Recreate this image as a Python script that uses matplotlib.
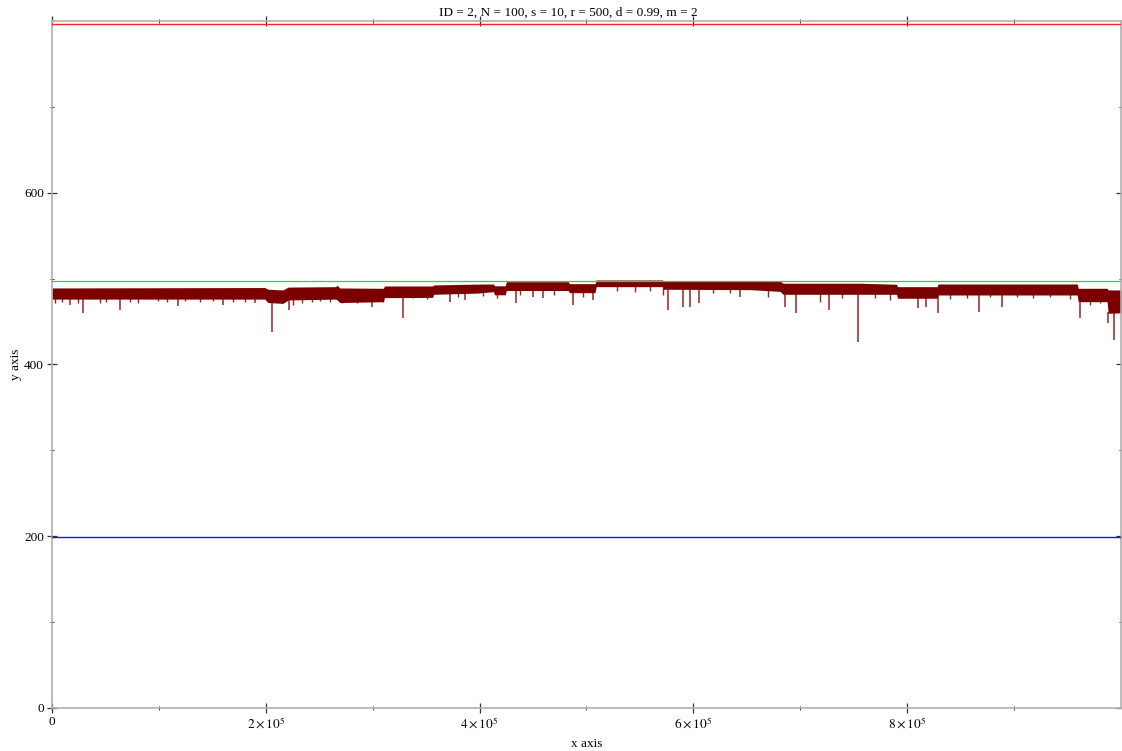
import numpy as np
import matplotlib
matplotlib.use("Agg")
import matplotlib.pyplot as plt

plt.rcParams["font.family"] = ["Liberation Serif", "DejaVu Serif"]
plt.rcParams["mathtext.fontset"] = "stix"

# envelope of the simulated trace: time step, upper and lower edge of the dense band
band_t = [0, 199e3, 202e3, 216e3, 221e3, 265e3, 267e3, 269e3, 310e3, 311e3,
          356e3, 357e3, 398e3, 413e3, 414e3, 424e3, 425e3, 483e3, 484e3, 508e3,
          509e3, 571e3, 572e3, 653e3, 681e3, 684e3, 756e3, 790e3, 791e3, 828e3,
          829e3, 959e3, 960e3, 987e3, 988e3, 1000e3]
band_hi = [489.0, 489.5, 487.5, 486.7, 490.0, 490.5, 492.0, 489.0, 488.6, 491.3,
           491.3, 492.5, 493.5, 493.6, 491.5, 491.5, 496.3, 496.3, 494.0, 494.0,
           498.3, 498.3, 497.1, 497.0, 497.0, 494.5, 494.5, 493.3, 490.5, 490.5,
           493.6, 493.6, 488.6, 488.6, 486.7, 486.7]
band_lo = [476.0, 476.0, 472.0, 471.0, 475.0, 476.0, 475.0, 472.0, 473.0, 477.7,
           478.0, 481.6, 483.0, 484.7, 481.0, 481.0, 486.0, 486.0, 483.5, 483.5,
           490.5, 490.5, 487.5, 487.0, 485.0, 481.6, 481.6, 481.6, 477.0, 477.0,
           480.8, 480.8, 473.0, 473.0, 459.5, 460.0]

# deep downward excursions of the trace
spike_t = [17e3, 29e3, 64e3, 118e3, 160e3, 190e3, 206e3, 222e3, 299e3, 328e3,
           372e3, 386e3, 434e3, 450e3, 459e3, 487e3, 506e3, 576e3, 590e3, 597e3,
           605e3, 644e3, 686e3, 696e3, 727e3, 754e3, 810e3, 818e3, 829e3, 867e3,
           889e3, 962e3, 988e3, 993e3]
spike_lo = [469.3, 460.0, 463.5, 468.0, 469.3, 471.6, 437.9, 463.5, 467.0, 454.2,
            472.8, 475.1, 471.6, 478.6, 477.4, 469.3, 475.1, 463.5, 467.0, 467.0,
            471.6, 478.6, 467.0, 460.0, 463.5, 426.3, 466.0, 467.0, 460.0, 461.0,
            467.0, 454.2, 448.4, 428.6]

# shallow excursions along the lower edge of the band
minor_t = [3e3, 9e3, 24e3, 45e3, 50.5e3, 73e3, 80.5e3, 99e3, 107.5e3, 124e3,
           138e3, 150.6e3, 169.5e3, 180.5e3, 225.6e3, 233.7e3, 243e3, 250.7e3, 260e3, 271e3,
           285e3, 310e3, 338e3, 351e3, 380e3, 403e3, 416e3, 438e3, 470e3, 497e3,
           528.5e3, 545.5e3, 559e3, 571.6e3, 618.4e3, 634e3, 670e3, 718.5e3, 739e3, 770e3,
           784e3, 840e3, 856e3, 877.5e3, 902.7e3, 917.7e3, 933.6e3, 952e3, 971e3, 980e3]
minor_lo = [471.9, 473.0, 471.2, 471.9, 473.0, 473.0, 471.9, 474.2, 473.0, 474.2,
            473.0, 474.2, 473.0, 473.0, 469.2, 471.2, 473.0, 474.2, 473.0, 471.2,
            471.9, 473.0, 477.0, 475.8, 478.1, 479.7, 477.0, 480.8, 480.8, 478.1,
            485.8, 484.7, 485.8, 480.8, 482.8, 483.5, 478.1, 473.0, 477.0, 477.0,
            475.0, 475.8, 477.0, 478.1, 478.1, 477.0, 478.1, 475.8, 469.2, 471.2]

# reference levels
upper_level = 796
mid_level = 497
lower_level = 199

title = "ID = 2, N = 100, s = 10, r = 500, d = 0.99, m = 2"
x_major = [0, 2e5, 4e5, 6e5, 8e5]
x_major_labels = ["0", r"$2\times10^{5}$", r"$4\times10^{5}$", r"$6\times10^{5}$", r"$8\times10^{5}$"]
x_minor = [1e5, 3e5, 5e5, 7e5, 9e5]
y_major = [0, 200, 400, 600]
y_major_labels = ["0", "200", "400", "600"]
y_minor = [100, 300, 500, 700]

W, H = 1122, 751
fig = plt.figure(figsize=(W / 100, H / 100), dpi=100)
ax = fig.add_axes([52 / W, (H - 707.7) / H, (1121 - 52) / W, (707.7 - 21) / H])

trace_color = "#7b0000"
ax.fill_between(band_t, band_lo, band_hi, color=trace_color, lw=0, zorder=2)
spike_top = np.interp(spike_t, band_t, band_lo) + 1
ax.vlines(spike_t, spike_lo, spike_top, color="#8a0000", lw=1.2, alpha=0.8, zorder=2)
minor_top = np.interp(minor_t, band_t, band_lo) + 1
ax.vlines(minor_t, minor_lo, minor_top, color="#800000", lw=1.0, alpha=0.85, zorder=2)

ax.axhline(upper_level, color="#ff2020", lw=1.0, zorder=3)
ax.axhline(mid_level, color="#22dd22", lw=0.9, zorder=3)
ax.axhline(lower_level, color="#1a1acc", lw=1.0, zorder=3)

ax.set_xlim(0, 1e6)
ax.set_ylim(0, 800)
ax.set_xticks(x_major)
ax.set_xticklabels(x_major_labels)
ax.set_xticks(x_minor, minor=True)
ax.set_yticks(y_major)
ax.set_yticklabels(y_major_labels)
ax.set_yticks(y_minor, minor=True)

ax.tick_params(which="both", direction="inout", top=True, right=True,
               labeltop=False, labelright=False, color="#333333", labelsize=9.5)
ax.tick_params(which="major", length=7.5, width=0.9)
ax.tick_params(which="minor", length=3, width=0.7)
ax.tick_params(axis="x", which="major", pad=2.5)
ax.tick_params(axis="y", which="major", pad=2.0)

for side in ["left", "right", "top", "bottom"]:
    ax.spines[side].set_color("#b0b0b0")
    ax.spines[side].set_linewidth(1.2)

fig.text(568 / W, 1 - 13 / H, title, ha="center", va="center", fontsize=9.5)
fig.text(587 / W, 1 - 744 / H, "x axis", ha="center", va="center", fontsize=9.5)
fig.text(16 / W, 1 - 364 / H, "y axis", ha="center", va="center", rotation=90, fontsize=9.5)

fig.savefig("out.png", dpi=100, facecolor="white")
